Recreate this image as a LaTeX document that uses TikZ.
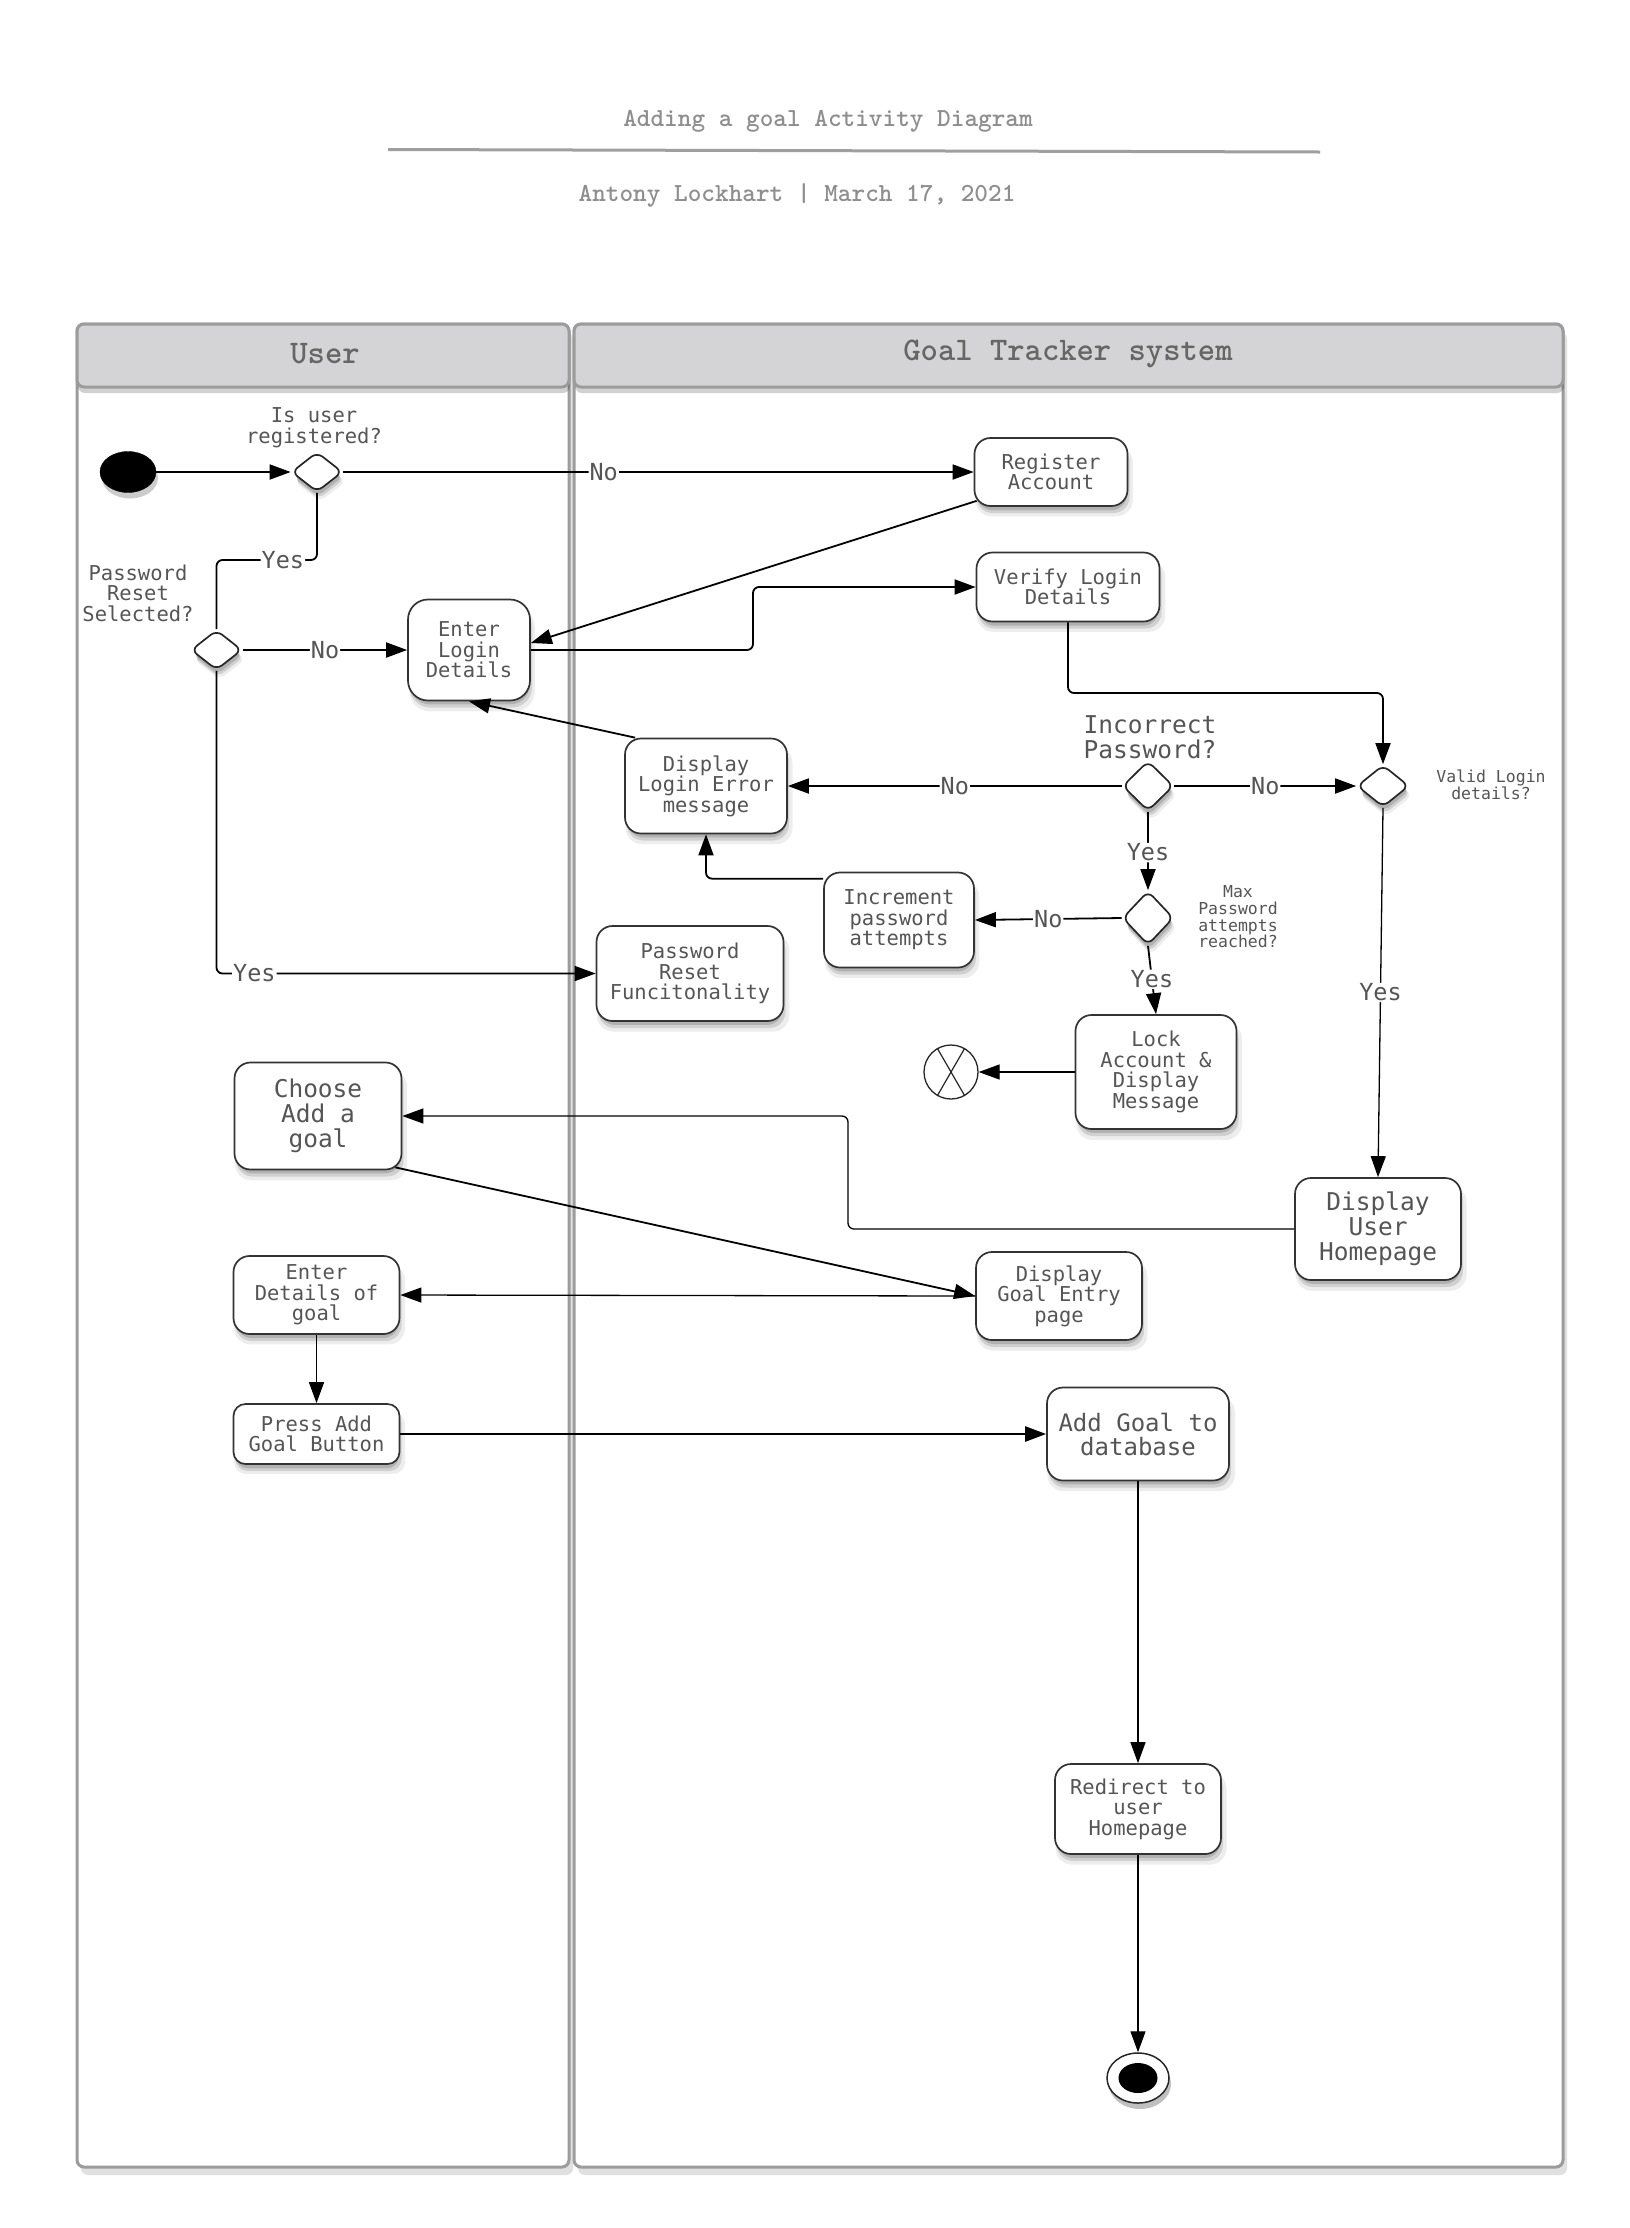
\documentclass[tikz,border=0pt]{standalone}
\usepackage{fontspec}
\newfontfamily\nodefont{DejaVu Sans Mono}
\usetikzlibrary{arrows.meta,shapes.geometric,shadows,calc}
\definecolor{txtgray}{HTML}{555555}
\definecolor{titlegray}{HTML}{8E8E8E}
\definecolor{headfill}{HTML}{D4D4D6}
\definecolor{laneedge}{HTML}{9C9C9C}
\tikzset{
  softshadow/.style={
    drop shadow={shadow xshift=3pt,shadow yshift=-9pt,opacity=0.07,fill=black,shadow scale=1.03},
    drop shadow={shadow xshift=2pt,shadow yshift=-7pt,opacity=0.12,fill=black},
    drop shadow={shadow xshift=1pt,shadow yshift=-5pt,opacity=0.15,fill=black,shadow scale=0.98}},
  box/.style={draw=black!80, line width=1.7pt, fill=white, rounded corners=16pt,
    align=center, inner sep=2pt, text=txtgray,
    font=\nodefont\fontsize{20.5}{20.6}\selectfont, softshadow},
  bigbox/.style={box, font=\nodefont\fontsize{24.5}{25.2}\selectfont},
  decision/.style={diamond, draw=black!85, line width=1.7pt, fill=white,
    rounded corners=7pt, inner sep=0pt, softshadow},
  lab/.style={fill=white, align=center, inner sep=2pt, text=txtgray,
    font=\nodefont\fontsize{20.5}{20.6}\selectfont},
  smalllab/.style={lab, font=\nodefont\fontsize{16.5}{16.7}\selectfont},
  biglab/.style={lab, font=\nodefont\fontsize{24.5}{25}\selectfont},
  lbl/.style={fill=white, inner sep=1pt, text=txtgray,
    font=\nodefont\fontsize{23.5}{24}\selectfont},
  conn/.style={draw=black, line width=1.8pt, rounded corners=6pt,
    -{Triangle[length=21pt,width=15pt]}},
  thinconn/.style={conn, line width=1.3pt},
  plainconn/.style={draw=black, line width=1.8pt, rounded corners=6pt},
  lane/.style={draw=laneedge, line width=3pt, fill=white, rounded corners=7pt,
    drop shadow={shadow xshift=4pt,shadow yshift=-8pt,opacity=0.12,fill=black}},
  lanehead/.style={draw=laneedge, line width=3pt, fill=headfill, rounded corners=7pt,
    drop shadow={shadow xshift=1pt,shadow yshift=-6pt,opacity=0.18,fill=black}},
  lanetitle/.style={text=black!60, font=\ttfamily\bfseries\fontsize{33}{36}\selectfont},
  titletext/.style={text=titlegray, font=\ttfamily\bfseries\fontsize{26}{28}\selectfont},
}
\begin{document}
\begin{tikzpicture}[x=1pt,y=-1pt]
\useasboundingbox (0,0) rectangle (1630,2228);
\fill[white] (0,0) rectangle (1630,2228);

% ---------- title ----------
\node[titletext] (title) at (828,121) {Adding a goal Activity Diagram};
\draw[titlegray!85, line width=3pt] (388,149.5) -- (1320,152);
\node[titletext] (subtitle) at (797,195) {Antony Lockhart | March 17, 2021};

% ---------- swimlanes ----------
\path[lane] (77,324) rectangle (569,2167);
\path[lane] (574,324) rectangle (1563,2167);
\path[lanehead] (77,324) rectangle (569,387);
\path[lanehead] (574,324) rectangle (1563,387);
\node[lanetitle] (userhead) at (325,354) {User};
\node[lanetitle] (systemhead) at (1068,354) {Goal Tracker system};

% ---------- nodes ----------
\node[ellipse, fill=black, draw=black, minimum width=56pt, minimum height=41pt,
  drop shadow={shadow xshift=2pt,shadow yshift=-6pt,opacity=0.2,fill=black}] (start) at (128,472) {};
\node[decision, minimum width=51pt, minimum height=40pt] (d1) at (317,472) {};
\node[lab] (d1lab) at (314,428) {Is user\\registered?};
\node[decision, minimum width=51pt, minimum height=40pt] (d2) at (216.5,650) {};
\node[lab] (d2lab) at (138,593) {Password\\Reset\\Selected?};

\node[box, minimum width=153pt, minimum height=68pt] (reg) at (1051,472) {Register\\Account};
\node[box, minimum width=122pt, minimum height=101pt, rounded corners=20pt] (enter) at (469,650) {Enter\\Login\\Details};
\node[box, minimum width=183pt, minimum height=69pt] (verify) at (1068,587) {Verify Login\\Details};

\node[decision, minimum width=52pt, minimum height=42pt] (valid) at (1383,786) {};
\node[smalllab] (validlab) at (1491,785) {Valid Login\\details?};
\node[decision, minimum width=51pt, minimum height=50pt] (incorrect) at (1148,786) {};
\node[biglab] (incorrectlab) at (1150,737) {Incorrect\\Password?};
\node[box, minimum width=162pt, minimum height=95pt] (err) at (706,786) {Display\\Login Error\\message};

\node[decision, minimum width=51pt, minimum height=54pt] (max) at (1148,918) {};
\node[smalllab] (maxlab) at (1238,917) {Max\\Password\\attempts\\reached?};
\node[box, minimum width=150pt, minimum height=95pt] (inc) at (899,920) {Increment\\password\\attempts};
\node[box, minimum width=187pt, minimum height=95pt] (pw) at (690,973.5) {Password\\Reset\\Funcitonality};

\node[box, minimum width=161pt, minimum height=114pt] (lock) at (1156,1072) {Lock\\Account \&\\Display\\Message};
\node[circle, draw=black!85, line width=1.3pt, fill=white, minimum size=54pt, inner sep=0pt] (xend) at (951,1072) {};
\draw[black!85, line width=1.2pt] (xend.120) -- (xend.-60) (xend.60) -- (xend.-120);

\node[bigbox, minimum width=166pt, minimum height=102pt] (duh) at (1378,1229) {Display\\User\\Homepage};
\node[bigbox, minimum width=167pt, minimum height=107pt] (choose) at (318,1116) {Choose\\Add a\\goal};
\node[box, minimum width=166pt, minimum height=88pt] (dge) at (1059,1296) {Display\\Goal Entry\\page};
\node[box, minimum width=166pt, minimum height=78pt] (details) at (316.5,1295) {Enter\\Details of\\goal};
\node[box, minimum width=166pt, minimum height=60pt, rounded corners=12pt] (press) at (316.5,1434) {Press Add\\Goal Button};
\node[box, minimum width=182pt, minimum height=93pt, font=\nodefont\fontsize{24}{24}\selectfont] (add) at (1138,1434) {Add Goal to\\database};
\node[box, minimum width=166pt, minimum height=90pt] (redirect) at (1138,1809) {Redirect to\\user\\Homepage};

\node[ellipse, draw=black!85, line width=1.5pt, fill=white, minimum width=62pt, minimum height=50pt,
  drop shadow={shadow xshift=2pt,shadow yshift=-6pt,opacity=0.25,fill=black}] (endnode) at (1138,2078) {};
\node[ellipse, fill=black, minimum width=39pt, minimum height=30pt, inner sep=0pt] (endcore) at (endnode) {};

% ---------- connectors ----------
\draw[conn] (start.east) -- (d1.west);
\draw[conn] (d1.east) -- node[lbl, pos=0.413] (l1) {No} (reg.west);
\draw[plainconn] (d1.south) -- (317,560) -- node[lbl, pos=0.34] (l2) {Yes} (216.5,560) -- (d2.north);
\draw[conn] (d2.east) -- node[lbl, pos=0.5] (l3) {No} (enter.west);
\draw[conn] (d2.south) |- node[lbl, pos=0.55] (l4) {Yes} (pw.west);
\draw[conn] ($(reg.south west)+(3,-6)$) -- ($(enter.east)+(0,-7)$);
\draw[conn] (enter.east) -- (753,650) |- (verify.west);
\draw[conn] (verify.south) -- (1068,693) -| (valid.north);
\draw[conn] (incorrect.east) -- node[lbl, pos=0.5] (l5) {No} (valid.west);
\draw[conn] (incorrect.west) -- node[lbl, pos=0.5] (l6) {No} (err.east);
\draw[conn] ($(err.north west)+(11,0)$) -- (enter.south);
\draw[conn] (incorrect.south) -- node[lbl, pos=0.52] (l7) {Yes} (max.north);
\draw[conn] (max.west) -- node[lbl, pos=0.5] (l8) {No} (inc.east);
\draw[conn] ($(inc.north west)+(0,7)$) -| (err.south);
\draw[conn] (max.south) -- node[lbl, pos=0.49] (l9) {Yes} (lock.north);
\draw[thinconn] (lock.west) -- (xend.east);
\draw[thinconn] (valid.south) -- node[lbl, pos=0.5] (l10) {Yes} (duh.north);
\draw[thinconn] (duh.west) -- (848,1229) |- (choose.east);
\draw[conn] ($(choose.south east)+(-7,-3)$) -- (dge.west);
\draw[thinconn] (dge.west) -- (details.east);
\draw[thinconn] (details.south) -- (press.north);
\draw[conn, line width=2.4pt] (press.east) -- (add.west);
\draw[thinconn] (add.south) -- (redirect.north);
\draw[thinconn] (redirect.south) -- (endnode.north);
\end{tikzpicture}
\end{document}
